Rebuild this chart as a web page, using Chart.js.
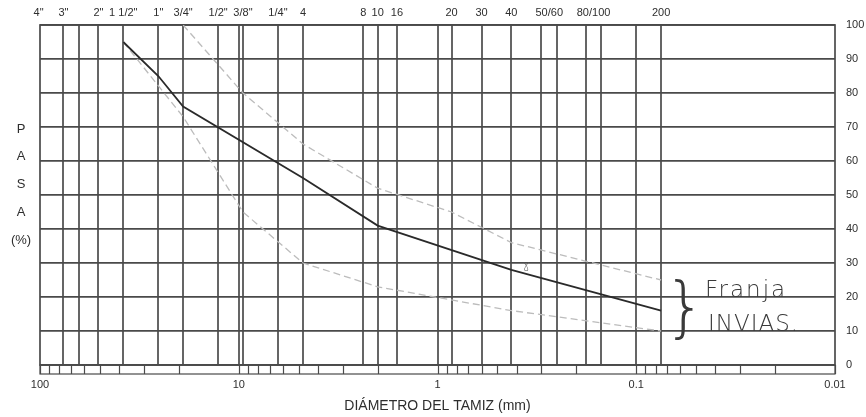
<!DOCTYPE html>
<html>
<head>
<meta charset="utf-8">
<script src="https://cdn.jsdelivr.net/npm/chart.js@4.4.1/dist/chart.umd.min.js"></script>
<style>
  html, body { margin: 0; padding: 0; background: #fff; }
  canvas { display: block; }
</style>
</head>
<body>
<canvas id="curve" width="866" height="417"></canvas>
<script>
// Sieve openings (mm) drawn as vertical rulings
const sieveOpeningsMm = [76.2, 63.5, 50.8, 38.1, 25.4, 19.05, 12.7, 10, 9.525, 6.35, 4.75,
                         2.36, 2.0, 1.6, 1.0, 0.85, 0.6, 0.425, 0.3, 0.25, 0.18, 0.15, 0.1, 0.075];

// Sieve designations printed along the top, and where each one sits (mm)
const sieveNames = ['4"', '3"', '2"', '1 1/2"', '1"', '3/4"', '1/2"', '3/8"', '1/4"', '4',
                    '8', '10', '16', '20', '30', '40', '50/60', '80/100', '200'];
const sieveNameAtMm = [101.6, 76.2, 50.8, 38.1, 25.4, 19.05, 12.7, 9.525, 6.35, 4.75,
                       2.36, 2.0, 1.6, 0.85, 0.6, 0.425, 0.274, 0.164, 0.075];

// Bottom decade labels (mm)
const decadeTicksMm = [100, 10, 1, 0.1, 0.01];
// Multipliers for the small log ticks in the strip under the grid
const minorSteps = [1, 2, 3, 4, 5, 6, 7, 8, 9];

// Percent passing ticks
const passingTicks = [0, 10, 20, 30, 40, 50, 60, 70, 80, 90, 100];

// Sample grading curve
const sampleSizesMm = [38.1, 25.4, 19.05, 4.75, 2.0, 0.425, 0.075];
const samplePassing = [95, 85, 76, 55, 41, 28, 16];

// Specification band, upper limit
const upperSizesMm = [19.05, 9.525, 4.75, 2.0, 0.85, 0.425, 0.075];
const upperPassing = [100, 80, 65, 52, 45, 36, 25];

// Specification band, lower limit
const lowerSizesMm = [38.1, 19.05, 9.525, 4.75, 2.0, 0.425, 0.075];
const lowerPassing = [95, 73, 45, 30, 23, 16, 10];

const toPoints = (xs, ys) => xs.map((x, i) => ({ x: x, y: ys[i] }));

const INK = '#2e2e2e';
const RULE = '#4a4a4a';
const FONT = '"Liberation Sans", Arial, sans-serif';

const gradingSheet = {
  id: 'gradingSheet',
  beforeDatasetsDraw(chart) {
    const { ctx, chartArea: a, scales } = chart;
    const x = scales.x;
    ctx.save();
    ctx.strokeStyle = RULE;
    ctx.lineWidth = 1.7;
    // sieve rulings
    sieveOpeningsMm.forEach(d => {
      const px = Math.round(x.getPixelForValue(d));
      ctx.beginPath();
      ctx.moveTo(px, a.top);
      ctx.lineTo(px, a.bottom);
      ctx.stroke();
    });
    // strip with log ticks below the zero line
    const stripH = 9;
    ctx.lineWidth = 1.2;
    ctx.strokeRect(a.left, a.bottom, a.right - a.left, stripH);
    decadeTicksMm.forEach(dec => {
      minorSteps.forEach(k => {
        const v = dec * k;
        if (v < 0.01 || v > 100) return;
        const px = Math.round(x.getPixelForValue(v)) + 0.5;
        ctx.beginPath();
        ctx.moveTo(px, a.bottom);
        ctx.lineTo(px, a.bottom + stripH);
        ctx.stroke();
      });
    });
    // frame
    ctx.lineWidth = 1.7;
    ctx.strokeRect(a.left, a.top, a.right - a.left, a.bottom - a.top);
    ctx.restore();
  },
  afterDraw(chart) {
    const { ctx } = chart;
    ctx.save();
    // stacked y-axis caption
    ctx.fillStyle = INK;
    ctx.font = '13px ' + FONT;
    ctx.textAlign = 'center';
    ctx.textBaseline = 'middle';
    ['P', 'A', 'S', 'A', '(%)'].forEach((s, i) => ctx.fillText(s, 21, 129 + i * 27.8));

    // pencil notes beside the band
    ctx.fillStyle = '#3a3a3a';
    ctx.font = '200 66px "DejaVu Sans", sans-serif';
    ctx.fillText('}', 685, 312);
    ctx.textAlign = 'left';
    ctx.font = '200 23px "DejaVu Sans", sans-serif';
    ctx.letterSpacing = '2px';
    ctx.fillText('Franja', 705, 291);
    ctx.letterSpacing = '1px';
    ctx.fillText('INVIAS.', 708, 325);
    ctx.letterSpacing = '0px';
    ctx.font = '200 12px "DejaVu Sans", sans-serif';
    ctx.fillStyle = '#555';
    ctx.fillText('\u0263', 522, 266);
    ctx.restore();
  }
};

new Chart(document.getElementById('curve'), {
  type: 'scatter',
  data: {
    datasets: [
      {
        label: 'Muestra',
        data: toPoints(sampleSizesMm, samplePassing),
        showLine: true,
        borderColor: '#2a2a2a',
        borderWidth: 1.8,
        pointRadius: 0,
        tension: 0,
        xAxisID: 'x'
      },
      {
        label: 'Límite superior',
        data: toPoints(upperSizesMm, upperPassing),
        showLine: true,
        borderColor: '#bcbcbc',
        borderWidth: 1.3,
        borderDash: [7, 4],
        pointRadius: 0,
        tension: 0,
        xAxisID: 'x'
      },
      {
        label: 'Límite inferior',
        data: toPoints(lowerSizesMm, lowerPassing),
        showLine: true,
        borderColor: '#bcbcbc',
        borderWidth: 1.3,
        borderDash: [7, 4],
        pointRadius: 0,
        tension: 0,
        xAxisID: 'x'
      }
    ]
  },
  options: {
    responsive: false,
    animation: false,
    devicePixelRatio: 1,
    layout: { padding: { left: 40, top: 0, right: 0, bottom: 0 } },
    plugins: { legend: { display: false }, tooltip: { enabled: false } },
    scales: {
      x: {
        type: 'logarithmic',
        position: 'bottom',
        reverse: true,
        min: 0.01,
        max: 100,
        afterBuildTicks: s => { s.ticks = decadeTicksMm.map(v => ({ value: v })); },
        afterFit: s => { s.height = 52; },
        grid: { display: false, drawTicks: false },
        border: { display: false },
        ticks: {
          autoSkip: false, maxRotation: 0, minRotation: 0, padding: 13,
          color: INK, font: { family: FONT, size: 11 },
          callback: v => String(v)
        },
        title: {
          display: true,
          text: 'DIÁMETRO DEL TAMIZ (mm)',
          color: INK,
          font: { family: FONT, size: 14 },
          padding: { top: 0, bottom: 2 }
        }
      },
      xTop: {
        type: 'logarithmic',
        position: 'top',
        reverse: true,
        min: 0.01,
        max: 100,
        afterBuildTicks: s => { s.ticks = sieveNameAtMm.map(v => ({ value: v })); },
        afterFit: s => { s.height = 25; },
        grid: { display: false, drawTicks: false },
        border: { display: false },
        ticks: {
          autoSkip: false, maxRotation: 0, minRotation: 0, padding: 5,
          color: INK, font: { family: FONT, size: 11 },
          callback: (v, i) => sieveNames[i]
        }
      },
      y: {
        type: 'linear',
        position: 'right',
        min: 0,
        max: 100,
        afterBuildTicks: s => { s.ticks = passingTicks.map(v => ({ value: v })); },
        afterFit: s => { s.width = 31; },
        grid: { color: RULE, lineWidth: 1.7, drawTicks: false },
        border: { display: false },
        ticks: { padding: 11, color: INK, font: { family: FONT, size: 11 } }
      }
    }
  },
  plugins: [gradingSheet]
});
</script>
</body>
</html>
